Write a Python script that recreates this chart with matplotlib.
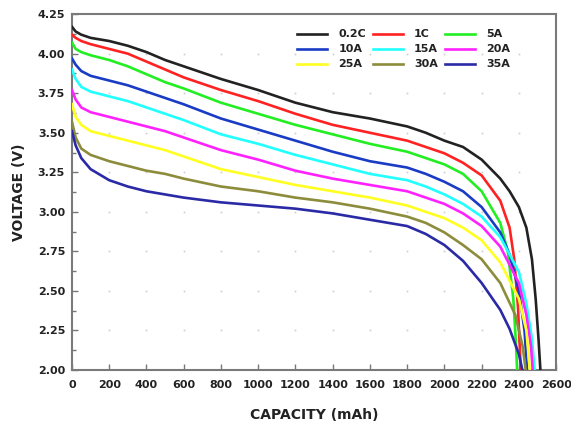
import numpy as np
import matplotlib
matplotlib.use('Agg')
import matplotlib.pyplot as plt

# capacity points (mAh) shared by all curves up to 2200 mAh
cap_base = [0, 20, 50, 100, 200, 300, 400, 500, 600, 800, 1000,
            1200, 1400, 1600, 1800, 1900, 2000, 2100, 2200]

labels = ['0.2C', '1C', '5A', '10A', '15A', '20A', '25A', '30A', '35A']
colors = ['#222222', '#ff2222', '#22ee22', '#1a3cc4', '#22ffff',
          '#ff22ff', '#ffff22', '#8c8c3c', '#2a2aa6']

# voltage at cap_base, one list per discharge rate
v_02c = [4.17, 4.14, 4.12, 4.10, 4.08, 4.05, 4.01, 3.96, 3.92, 3.84, 3.77,
         3.69, 3.63, 3.59, 3.54, 3.50, 3.45, 3.41, 3.33]
v_1c = [4.12, 4.10, 4.08, 4.06, 4.03, 4.00, 3.95, 3.90, 3.85, 3.77, 3.70,
        3.62, 3.55, 3.50, 3.45, 3.41, 3.37, 3.31, 3.23]
v_5a = [4.07, 4.03, 4.01, 3.99, 3.96, 3.92, 3.87, 3.82, 3.78, 3.69, 3.62,
        3.55, 3.49, 3.43, 3.38, 3.34, 3.30, 3.24, 3.13]
v_10a = [3.97, 3.93, 3.89, 3.86, 3.83, 3.80, 3.76, 3.72, 3.68, 3.59, 3.52,
         3.45, 3.38, 3.32, 3.28, 3.24, 3.19, 3.13, 3.03]
v_15a = [3.90, 3.84, 3.79, 3.76, 3.73, 3.70, 3.66, 3.62, 3.58, 3.49, 3.43,
         3.36, 3.30, 3.24, 3.20, 3.16, 3.11, 3.05, 2.97]
v_20a = [3.77, 3.71, 3.66, 3.63, 3.60, 3.57, 3.54, 3.51, 3.47, 3.39, 3.33,
         3.26, 3.21, 3.17, 3.13, 3.09, 3.05, 2.99, 2.91]
v_25a = [3.68, 3.60, 3.55, 3.51, 3.48, 3.45, 3.42, 3.39, 3.35, 3.27, 3.22,
         3.17, 3.13, 3.09, 3.04, 3.00, 2.96, 2.90, 2.82]
v_30a = [3.57, 3.47, 3.40, 3.36, 3.32, 3.29, 3.26, 3.24, 3.21, 3.16, 3.13,
         3.09, 3.06, 3.02, 2.97, 2.93, 2.87, 2.79, 2.70]
v_35a = [3.51, 3.42, 3.34, 3.27, 3.20, 3.16, 3.13, 3.11, 3.09, 3.06, 3.04,
         3.02, 2.99, 2.95, 2.91, 2.86, 2.79, 2.69, 2.55]

# end of discharge (knee) for each curve
tc_02c = [2300, 2350, 2400, 2440, 2470, 2490, 2505, 2518]
tv_02c = [3.21, 3.13, 3.03, 2.90, 2.70, 2.45, 2.20, 1.95]
tc_1c = [2300, 2350, 2375, 2395, 2412]
tv_1c = [3.07, 2.90, 2.70, 2.40, 1.95]
tc_5a = [2300, 2340, 2370, 2385, 2392]
tv_5a = [2.93, 2.75, 2.45, 2.15, 1.95]
tc_10a = [2300, 2350, 2400, 2430, 2447]
tv_10a = [2.87, 2.73, 2.50, 2.25, 1.95]
tc_15a = [2300, 2400, 2440, 2470, 2488]
tv_15a = [2.84, 2.62, 2.42, 2.20, 1.95]
tc_20a = [2300, 2400, 2440, 2465, 2477]
tv_20a = [2.78, 2.55, 2.35, 2.15, 1.95]
tc_25a = [2300, 2400, 2440, 2462]
tv_25a = [2.68, 2.45, 2.25, 1.95]
tc_30a = [2300, 2380, 2420, 2442]
tv_30a = [2.55, 2.35, 2.15, 1.95]
tc_35a = [2300, 2350, 2400, 2428]
tv_35a = [2.38, 2.26, 2.10, 1.95]

volts = [v_02c, v_1c, v_5a, v_10a, v_15a, v_20a, v_25a, v_30a, v_35a]
tail_caps = [tc_02c, tc_1c, tc_5a, tc_10a, tc_15a, tc_20a, tc_25a, tc_30a, tc_35a]
tail_volts = [tv_02c, tv_1c, tv_5a, tv_10a, tv_15a, tv_20a, tv_25a, tv_30a, tv_35a]

x_ticks = np.arange(0, 2601, 200)
y_ticks = np.arange(2.0, 4.26, 0.25)

#==============================================================================
fig = plt.figure(figsize=(5.71, 4.28), dpi=100)
ax = fig.add_axes([0.126, 0.1355, 0.848, 0.8315])

# faint dotted grid: dots at the tick intersections
gx, gy = np.meshgrid(x_ticks[1:-1], y_ticks[1:-1])
ax.plot(gx.ravel(), gy.ravel(), linestyle='none', marker='s', ms=1.2,
        mec='none', mfc='#cccccc', zorder=1)

lines = []
for lab, col, v, tc, tv in zip(labels, colors, volts, tail_caps, tail_volts):
    ln, = ax.plot(cap_base + tc, v + tv, color=col, lw=1.9, label=lab,
                  zorder=3, solid_joinstyle='round')
    lines.append(ln)

ax.set_xlim(0, 2600)
ax.set_ylim(2.0, 4.25)
ax.set_xticks(x_ticks)
ax.set_yticks(y_ticks)
ax.set_yticks(np.arange(2.125, 4.25, 0.25), minor=True)
ax.set_yticklabels(['%.2f' % t for t in y_ticks])

ax.tick_params(axis='both', which='major', direction='in', length=4,
               width=1.0, color='#777777', labelsize=8, labelcolor='#222222')
ax.tick_params(axis='x', which='major', pad=7)
ax.tick_params(axis='y', which='major', pad=5)
ax.tick_params(axis='y', which='minor', direction='in', length=3,
               width=1.0, color='#777777')
for lbl in ax.get_xticklabels() + ax.get_yticklabels():
    lbl.set_fontweight('bold')

for sp in ax.spines.values():
    sp.set_color('#7a7a7a')
    sp.set_linewidth(1.5)

ax.set_xlabel('CAPACITY (mAh)', fontsize=10, fontweight='bold',
              color='#222222', labelpad=13)
ax.set_ylabel('VOLTAGE (V)', fontsize=10, fontweight='bold',
              color='#222222', labelpad=8)

# legend filled row by row (3 x 3)
order = [0, 3, 6, 1, 4, 7, 2, 5, 8]
leg = ax.legend([lines[i] for i in order], [labels[i] for i in order],
                ncol=3, loc='upper right', frameon=False,
                prop={'size': 8, 'weight': 'bold'}, handlelength=2.7,
                handletextpad=1.0, columnspacing=0.6, labelspacing=0.45,
                bbox_to_anchor=(0.925, 0.985))
for t in leg.get_texts():
    t.set_color('#222222')

fig.savefig('out.png', dpi=100)
